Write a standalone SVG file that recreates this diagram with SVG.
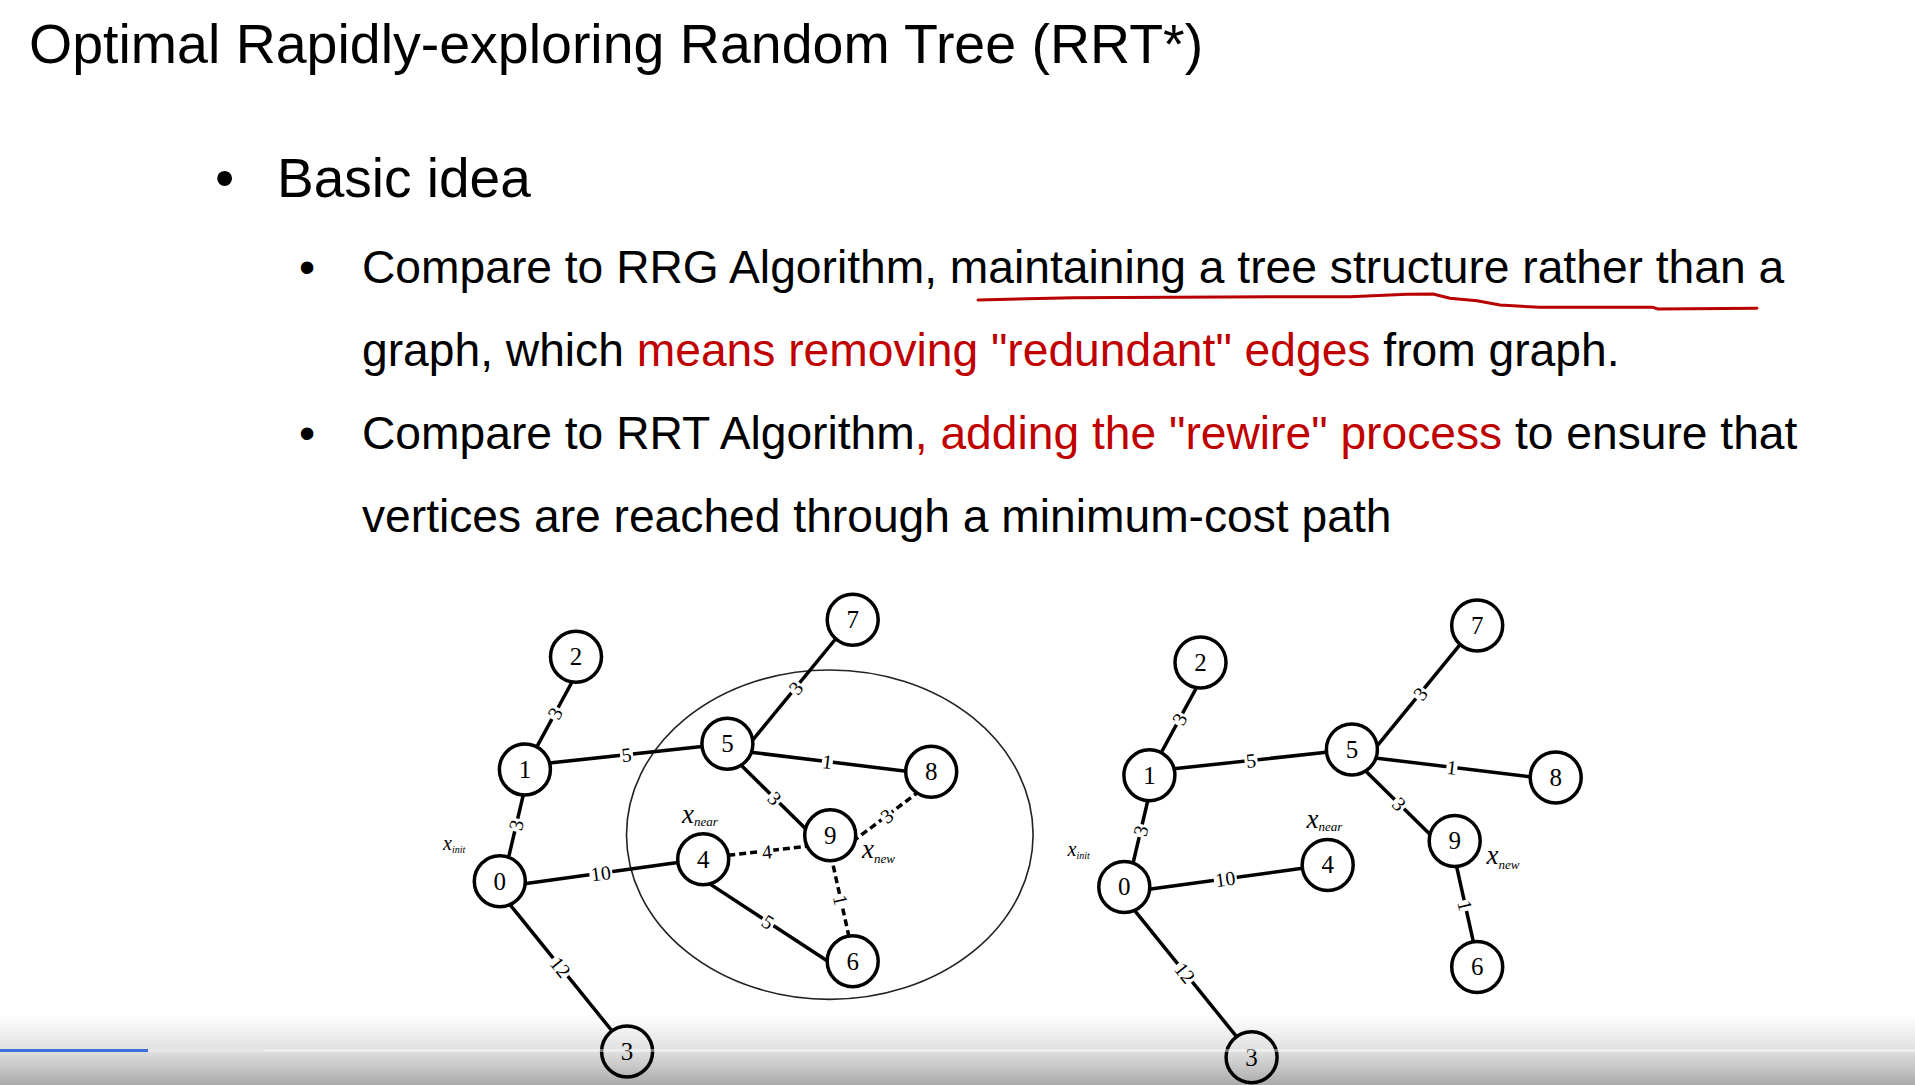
<svg xmlns="http://www.w3.org/2000/svg" width="1915" height="1085" viewBox="0 0 1915 1085">
<defs>
<style>
.t{font-family:"Liberation Sans",Arial,sans-serif;fill:#000}
.red{fill:#c00000}
.e{stroke:#000;stroke-width:3.5;fill:none;stroke-linecap:butt}
.d{stroke-dasharray:7 4}
.n circle{fill:#fff;stroke:#000;stroke-width:3.5}
.n text{font-family:"Liberation Serif","DejaVu Serif",serif;font-size:25px;text-anchor:middle;fill:#000}
.lb rect{fill:#fff}
.lb text{font-family:"Liberation Serif","DejaVu Serif",serif;font-size:20px;text-anchor:middle;fill:#000}
.xl{font-family:"Liberation Serif","DejaVu Serif",serif;font-style:italic;fill:#000}
</style>
<linearGradient id="shade" x1="0" y1="0" x2="0" y2="1">
<stop offset="0" stop-color="#000" stop-opacity="0"/>
<stop offset="0.5" stop-color="#000" stop-opacity="0.12"/>
<stop offset="1" stop-color="#000" stop-opacity="0.33"/>
</linearGradient>
</defs>
<rect width="1915" height="1085" fill="#fff"/>

<g id="text">
<text class="t" x="29" y="63" font-size="55.5">Optimal Rapidly-exploring Random Tree (RRT*)</text>
<text class="t" x="215" y="197" font-size="55">•</text>
<text class="t" x="277" y="197" font-size="55">Basic idea</text>
<text class="t" x="299" y="283" font-size="46.2">•</text>
<text class="t" x="362" y="283" font-size="46.2">Compare to RRG Algorithm, maintaining a tree structure rather than a</text>
<text class="t" x="362" y="366" font-size="46.2">graph, which <tspan class="red">means removing "redundant" edges</tspan> from graph.</text>
<text class="t" x="299" y="449" font-size="46.2">•</text>
<text class="t" x="362" y="449" font-size="46.2">Compare to RRT Algorithm<tspan class="red">, adding the "rewire" process</tspan> to ensure that</text>
<text class="t" x="362" y="532" font-size="46.2">vertices are reached through a minimum-cost path</text>
<path d="M978,300 L1073,297.7 L1273,296.7 L1350,296.7 L1407,294.3 L1433,294 L1450,298.3 L1477,300.7 L1500,305 L1540,307.3 L1653,307.3 L1658,309 L1757,308.3" fill="none" stroke="#b80000" stroke-width="3" stroke-linejoin="round" stroke-linecap="round"/>
</g>

<ellipse id="neighborhood" cx="829.8" cy="834.7" rx="203.3" ry="164.7" fill="none" stroke="#222" stroke-width="1.6"/>

<g id="connectors-left">
<line class="e" x1="574.2" y1="678" x2="534.9" y2="750.3"/>
<line class="e" x1="524.7" y1="788.9" x2="507.3" y2="862.8"/>
<line class="e" x1="544.6" y1="763.6" x2="708.9" y2="745.8"/>
<line class="e" x1="750.6" y1="742.6" x2="838.4" y2="635.5"/>
<line class="e" x1="746.3" y1="751.7" x2="910.4" y2="771.7"/>
<line class="e" x1="738.6" y1="762.7" x2="807.4" y2="830.6"/>
<line class="e d" x1="852.6" y1="841.5" x2="920.8" y2="790.2"/>
<line class="e d" x1="811.7" y1="845.8" x2="722.5" y2="855.9"/>
<line class="e d" x1="830.8" y1="854.9" x2="850" y2="941.1"/>
<line class="e" x1="704.8" y1="880.6" x2="830.1" y2="962.7"/>
<line class="e" x1="519" y1="884.4" x2="685" y2="861.6"/>
<line class="e" x1="508" y1="902.1" x2="614.9" y2="1034.5"/>
<g class="lb">
<g transform="translate(555,713.3) rotate(-61.5)"><rect x="-6.5" y="-7" width="13" height="14"/><text dy="7">3</text></g>
<g transform="translate(516.2,825) rotate(-76.7)"><rect x="-6.5" y="-7" width="13" height="14"/><text dy="7">3</text></g>
<g transform="translate(626.5,754.7) rotate(-6.2)"><rect x="-6.5" y="-7" width="13" height="14"/><text dy="7">5</text></g>
<g transform="translate(795.8,688) rotate(-50.7)"><rect x="-6.5" y="-7" width="13" height="14"/><text dy="7">3</text></g>
<g transform="translate(827.4,761.6) rotate(6.9)"><rect x="-5.5" y="-7" width="11" height="14"/><text dy="7">1</text></g>
<g transform="translate(774.8,798.4) rotate(44.6)"><rect x="-6.5" y="-7" width="13" height="14"/><text dy="7">3</text></g>
<g transform="translate(886.7,815.9) rotate(-37)"><rect x="-6.5" y="-7" width="13" height="14"/><text dy="7">3</text></g>
<g transform="translate(766.9,851.7) rotate(-6.5)"><rect x="-6.5" y="-7" width="13" height="14"/><text dy="7">4</text></g>
<g transform="translate(840.6,900) rotate(77.4)"><rect x="-5.5" y="-7" width="11" height="14"/><text dy="7">1</text></g>
<g transform="translate(768,922) rotate(33.2)"><rect x="-6.5" y="-7" width="13" height="14"/><text dy="7">5</text></g>
<g transform="translate(600.8,873.2) rotate(-7.8)"><rect x="-11.5" y="-7" width="23" height="14"/><text dy="7">10</text></g>
<g transform="translate(560.5,967.1) rotate(51.1)"><rect x="-11.5" y="-7" width="23" height="14"/><text dy="7">12</text></g>
</g>
</g>

<g id="connectors-right" transform="translate(624.5,5.7)">
<line class="e" x1="574.2" y1="678" x2="534.9" y2="750.3"/>
<line class="e" x1="524.7" y1="788.9" x2="507.3" y2="862.8"/>
<line class="e" x1="544.6" y1="763.6" x2="708.9" y2="745.8"/>
<line class="e" x1="750.6" y1="742.6" x2="838.4" y2="635.5"/>
<line class="e" x1="746.3" y1="751.7" x2="910.4" y2="771.7"/>
<line class="e" x1="738.6" y1="762.7" x2="807.4" y2="830.6"/>
<line class="e" x1="830.8" y1="854.9" x2="850" y2="941.1"/>
<line class="e" x1="519" y1="884.4" x2="685" y2="861.6"/>
<line class="e" x1="508" y1="902.1" x2="614.9" y2="1034.5"/>
<g class="lb">
<g transform="translate(555,713.3) rotate(-61.5)"><rect x="-6.5" y="-7" width="13" height="14"/><text dy="7">3</text></g>
<g transform="translate(516.2,825) rotate(-76.7)"><rect x="-6.5" y="-7" width="13" height="14"/><text dy="7">3</text></g>
<g transform="translate(626.5,754.7) rotate(-6.2)"><rect x="-6.5" y="-7" width="13" height="14"/><text dy="7">5</text></g>
<g transform="translate(795.8,688) rotate(-50.7)"><rect x="-6.5" y="-7" width="13" height="14"/><text dy="7">3</text></g>
<g transform="translate(827.4,761.6) rotate(6.9)"><rect x="-5.5" y="-7" width="11" height="14"/><text dy="7">1</text></g>
<g transform="translate(774.8,798.4) rotate(44.6)"><rect x="-6.5" y="-7" width="13" height="14"/><text dy="7">3</text></g>
<g transform="translate(840.6,900) rotate(77.4)"><rect x="-5.5" y="-7" width="11" height="14"/><text dy="7">1</text></g>
<g transform="translate(600.8,873.2) rotate(-7.8)"><rect x="-11.5" y="-7" width="23" height="14"/><text dy="7">10</text></g>
<g transform="translate(560.5,967.1) rotate(51.1)"><rect x="-11.5" y="-7" width="23" height="14"/><text dy="7">12</text></g>
</g>
</g>

<g id="nodes-left">
<g id="L0" class="n"><circle cx="499.8" cy="881.2" r="25.5"/><text x="499.8" y="889.8">0</text></g>
<g id="L1" class="n"><circle cx="524.9" cy="769.5" r="25.5"/><text x="524.9" y="778.1">1</text></g>
<g id="L2" class="n"><circle cx="576" cy="656.7" r="25.5"/><text x="576" y="665.3">2</text></g>
<g id="L3" class="n"><circle cx="627.1" cy="1051.5" r="25.5"/><text x="627.1" y="1060.1">3</text></g>
<g id="L4" class="n"><circle cx="703.2" cy="859.2" r="25.5"/><text x="703.2" y="867.8">4</text></g>
<g id="L5" class="n"><circle cx="727.4" cy="743.7" r="25.5"/><text x="727.4" y="752.3">5</text></g>
<g id="L6" class="n"><circle cx="852.7" cy="961.2" r="25.5"/><text x="852.7" y="969.8">6</text></g>
<g id="L7" class="n"><circle cx="852.7" cy="619.7" r="25.5"/><text x="852.7" y="628.3">7</text></g>
<g id="L8" class="n"><circle cx="931.2" cy="771.8" r="25.5"/><text x="931.2" y="780.4">8</text></g>
<g id="L9" class="n"><circle cx="830.2" cy="835.2" r="25.5"/><text x="830.2" y="843.8">9</text></g>
<g id="L-labels">
<text class="xl" x="443" y="850" font-size="20">x<tspan font-size="10" dy="3">init</tspan></text>
<text class="xl" x="682" y="822.7" font-size="27">x<tspan font-size="13" dy="3">near</tspan></text>
<text class="xl" x="862" y="858.3" font-size="27">x<tspan font-size="13" dy="5">new</tspan></text>
</g>
</g>

<g id="nodes-right" transform="translate(624.5,5.7)">
<g id="R0" class="n"><circle cx="499.8" cy="881.2" r="25.5"/><text x="499.8" y="889.8">0</text></g>
<g id="R1" class="n"><circle cx="524.9" cy="769.5" r="25.5"/><text x="524.9" y="778.1">1</text></g>
<g id="R2" class="n"><circle cx="576" cy="656.7" r="25.5"/><text x="576" y="665.3">2</text></g>
<g id="R3" class="n"><circle cx="627.1" cy="1051.5" r="25.5"/><text x="627.1" y="1060.1">3</text></g>
<g id="R4" class="n"><circle cx="703.2" cy="859.2" r="25.5"/><text x="703.2" y="867.8">4</text></g>
<g id="R5" class="n"><circle cx="727.4" cy="743.7" r="25.5"/><text x="727.4" y="752.3">5</text></g>
<g id="R6" class="n"><circle cx="852.7" cy="961.2" r="25.5"/><text x="852.7" y="969.8">6</text></g>
<g id="R7" class="n"><circle cx="852.7" cy="619.7" r="25.5"/><text x="852.7" y="628.3">7</text></g>
<g id="R8" class="n"><circle cx="931.2" cy="771.8" r="25.5"/><text x="931.2" y="780.4">8</text></g>
<g id="R9" class="n"><circle cx="830.2" cy="835.2" r="25.5"/><text x="830.2" y="843.8">9</text></g>
<g id="R-labels">
<text class="xl" x="443" y="850" font-size="20">x<tspan font-size="10" dy="3">init</tspan></text>
<text class="xl" x="682" y="822.7" font-size="27">x<tspan font-size="13" dy="3">near</tspan></text>
<text class="xl" x="862" y="858.3" font-size="27">x<tspan font-size="13" dy="5">new</tspan></text>
</g>
</g>

<g id="player">
<rect x="0" y="1015" width="1915" height="70" fill="url(#shade)"/>
<rect x="0" y="1049" width="1915" height="3" fill="#fff" fill-opacity="0.45"/>
<rect x="148" y="1049" width="117" height="3" fill="#e6e6e6"/>
<rect x="0" y="1049" width="148" height="3" fill="#3d6fdb"/>
</g>
</svg>
